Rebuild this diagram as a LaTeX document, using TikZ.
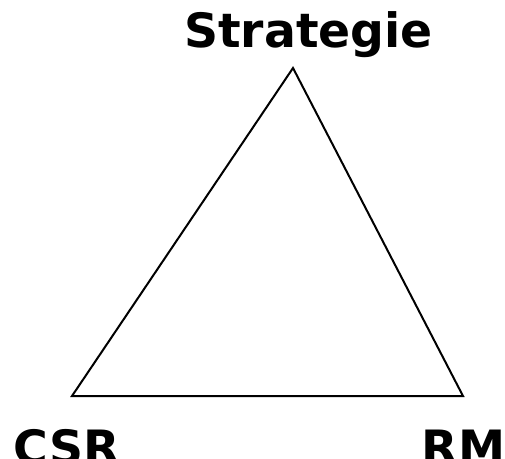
\documentclass[tikz,border=0pt]{standalone}
\usepackage{fontspec}
\setmainfont{DejaVu Sans}
\tikzstyle{corner} = [font=\fontsize{47.3}{52}\selectfont\bfseries, anchor=base, inner sep=0pt]
\tikzstyle{side} = [line width=2pt, line join=miter, draw=black]

\begin{document}
\begin{tikzpicture}[x=1pt, y=1pt]

\useasboundingbox (0, 0) rectangle (505, 458);

\coordinate (top) at (293, 390);
\coordinate (left) at (72, 62);
\coordinate (right) at (463, 62);

\node at (308.5, 410) (strategie) [corner] {Strategie};
\node at (66.5, -6) (csr) [corner] {CSR};
\node at (463.5, -6) (rm) [corner] {RM};

\draw [side] (top) -- (left) -- (right) -- cycle;

\end{tikzpicture}
\end{document}
